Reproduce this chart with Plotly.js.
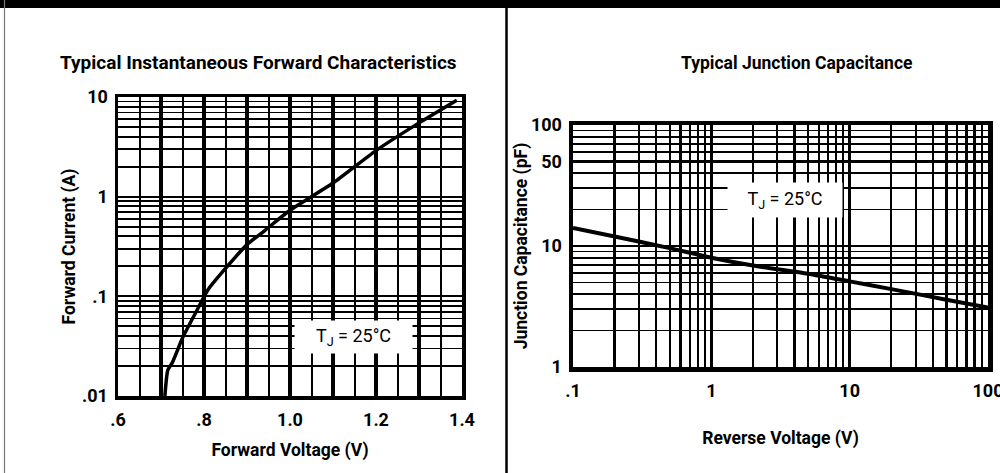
<!DOCTYPE html>
<html>
<head>
<meta charset="utf-8">
<script src="https://cdn.plot.ly/plotly-3.0.1.min.js"></script>
<style>
html,body{margin:0;padding:0;background:#fff;}
#chart{width:1000px;height:473px;}
</style>
</head>
<body>
<div id="chart"></div>
<script>
// ---- Data: Typical Instantaneous Forward Characteristics ----
var forwardVoltage = [0.709, 0.716, 0.726, 0.751, 0.784, 0.809, 0.853, 0.900, 0.942, 1.000, 1.100, 1.200, 1.300, 1.388];
var forwardCurrent = [0.0100, 0.0183, 0.0215, 0.039, 0.073, 0.116, 0.197, 0.33, 0.46, 0.73, 1.37, 2.9, 5.5, 9.3];

// ---- Data: Typical Junction Capacitance ----
var reverseVoltage = [0.1, 0.2, 0.5, 1, 2, 5, 10, 20, 50, 100];
var junctionCap = [14.1, 12.0, 9.6, 8.0, 6.9, 5.9, 5.1, 4.4, 3.6, 3.1];

// ---- Tick labels ----
var fvLabelAlias = {'0.6': '.6', '0.8': '.8'};
var fiTickVals = [0.01, 0.1, 1, 10];
var fiTickText = ['.01', '.1', '1', '10'];
var rvTickVals = [0.1, 1, 10, 100];
var rvTickText = ['.1', '1', '10', '100'];
var cjTickVals = [1, 10, 50, 100];
var cjTickText = ['1', '10', '50', '100'];

var fam = 'Roboto, "Liberation Sans Narrow", "DejaVu Sans Condensed", sans-serif';

var traces = [
  {x: forwardVoltage, y: forwardCurrent, xaxis: 'x', yaxis: 'y', type: 'scatter', mode: 'lines',
   line: {color: '#000', width: 3.5, shape: 'spline', smoothing: 0.6}, hoverinfo: 'x+y'},
  {x: reverseVoltage, y: junctionCap, xaxis: 'x2', yaxis: 'y2', type: 'scatter', mode: 'lines',
   line: {color: '#000', width: 4, shape: 'spline', smoothing: 0.6}, hoverinfo: 'x+y'}
];

var tickFont = {family: fam, size: 18, color: '#000', weight: 'bold'};
var titleFont = {family: fam, size: 17.5, color: '#000', weight: 'bold'};

function baseAxis() {
  return {
    showline: true, linecolor: '#000', linewidth: 3.5, mirror: true,
    showgrid: true, gridcolor: '#000', zeroline: false,
    ticks: '', tickfont: tickFont, fixedrange: true, automargin: false,
    ticklabeloverflow: 'allow'
  };
}

var xaxis = Object.assign(baseAxis(), {
  domain: [0.118, 0.462], range: [0.6, 1.4],
  tickmode: 'linear', tick0: 0.6, dtick: 0.1, ticklabelstep: 2,
  tickformat: '.1f', labelalias: fvLabelAlias,
  gridwidth: 3.5, ticklabelstandoff: 5,
  minor: {dtick: 0.05, tick0: 0.6, showgrid: true, gridcolor: '#000', gridwidth: 2},
  title: {text: 'Forward Voltage (V)', font: titleFont, standoff: 15}
});
var yaxis = Object.assign(baseAxis(), {
  domain: [1 - 396/473, 1 - 97/473], type: 'log', range: [-2, 1],
  tickmode: 'array', tickvals: fiTickVals, ticktext: fiTickText,
  gridwidth: 2.2, ticklabelstandoff: 3,
  minor: {dtick: 'D1', showgrid: true, gridcolor: '#000', gridwidth: 1.8},
  title: {text: 'Forward Current (A)', font: titleFont, standoff: 3}
});
var xaxis2 = Object.assign(baseAxis(), {
  domain: [0.573, 0.988], type: 'log', range: [-1, 2], anchor: 'y2',
  tickmode: 'array', tickvals: rvTickVals, ticktext: rvTickText,
  gridwidth: 3, linewidth: 4.5, ticklabelstandoff: 4,
  minor: {dtick: 'D1', showgrid: true, gridcolor: '#000', gridwidth: 2.3},
  title: {text: 'Reverse Voltage (V)', font: titleFont, standoff: 33}
});
var yaxis2 = Object.assign(baseAxis(), {
  domain: [1 - 367/473, 1 - 125/473], type: 'log', range: [0, 2], anchor: 'x2',
  tickmode: 'array', tickvals: cjTickVals, ticktext: cjTickText,
  gridwidth: 2.3, linewidth: 4.5, ticklabelstandoff: 3,
  minor: {dtick: 'D1', showgrid: true, gridcolor: '#000', gridwidth: 1.8},
  title: {text: 'Junction Capacitance (pF)', font: titleFont, standoff: 0}
});

var layout = {
  width: 1000, height: 473,
  margin: {l: 0, r: 0, t: 0, b: 0},
  paper_bgcolor: '#fff', plot_bgcolor: '#fff',
  showlegend: false,
  xaxis: xaxis, yaxis: yaxis, xaxis2: xaxis2, yaxis2: yaxis2,
  shapes: [
    {type: 'rect', xref: 'paper', yref: 'paper', x0: 0, x1: 1, y0: 1 - 8/473, y1: 1,
     fillcolor: '#000', line: {width: 0}},
    {type: 'line', xref: 'paper', yref: 'paper', x0: 0.5065, x1: 0.5065, y0: 0, y1: 1,
     line: {color: '#000', width: 2.5}},
    {type: 'line', xref: 'paper', yref: 'paper', x0: 0.0045, x1: 0.0045, y0: 0, y1: 1,
     line: {color: '#777', width: 1.2}}
  ],
  annotations: [
    {text: 'Typical Instantaneous Forward Characteristics', xref: 'paper', yref: 'paper',
     x: 0.258, y: 1 - 63/473, xanchor: 'center', yanchor: 'middle', showarrow: false,
     font: {family: fam, size: 19, color: '#000', weight: 'bold'}},
    {text: 'Typical Junction Capacitance', xref: 'paper', yref: 'paper',
     x: 0.796, y: 1 - 63/473, xanchor: 'center', yanchor: 'middle', showarrow: false,
     font: {family: fam, size: 17.5, color: '#000', weight: 'bold'}},
    {text: 'T<sub>J</sub> = 25°C', xref: 'paper', yref: 'paper',
     x: 0.353, y: 1 - 337/473, xanchor: 'center', yanchor: 'middle', showarrow: false,
     width: 115, height: 30, bgcolor: '#fff', borderpad: 1,
     font: {family: fam, size: 18, color: '#000'}},
    {text: 'T<sub>J</sub> = 25°C', xref: 'paper', yref: 'paper',
     x: 0.785, y: 1 - 200/473, xanchor: 'center', yanchor: 'middle', showarrow: false,
     width: 112, height: 32, bgcolor: '#fff', borderpad: 1,
     font: {family: fam, size: 18, color: '#000'}}
  ]
};

Plotly.newPlot('chart', traces, layout, {displayModeBar: false, staticPlot: true});
</script>
</body>
</html>
